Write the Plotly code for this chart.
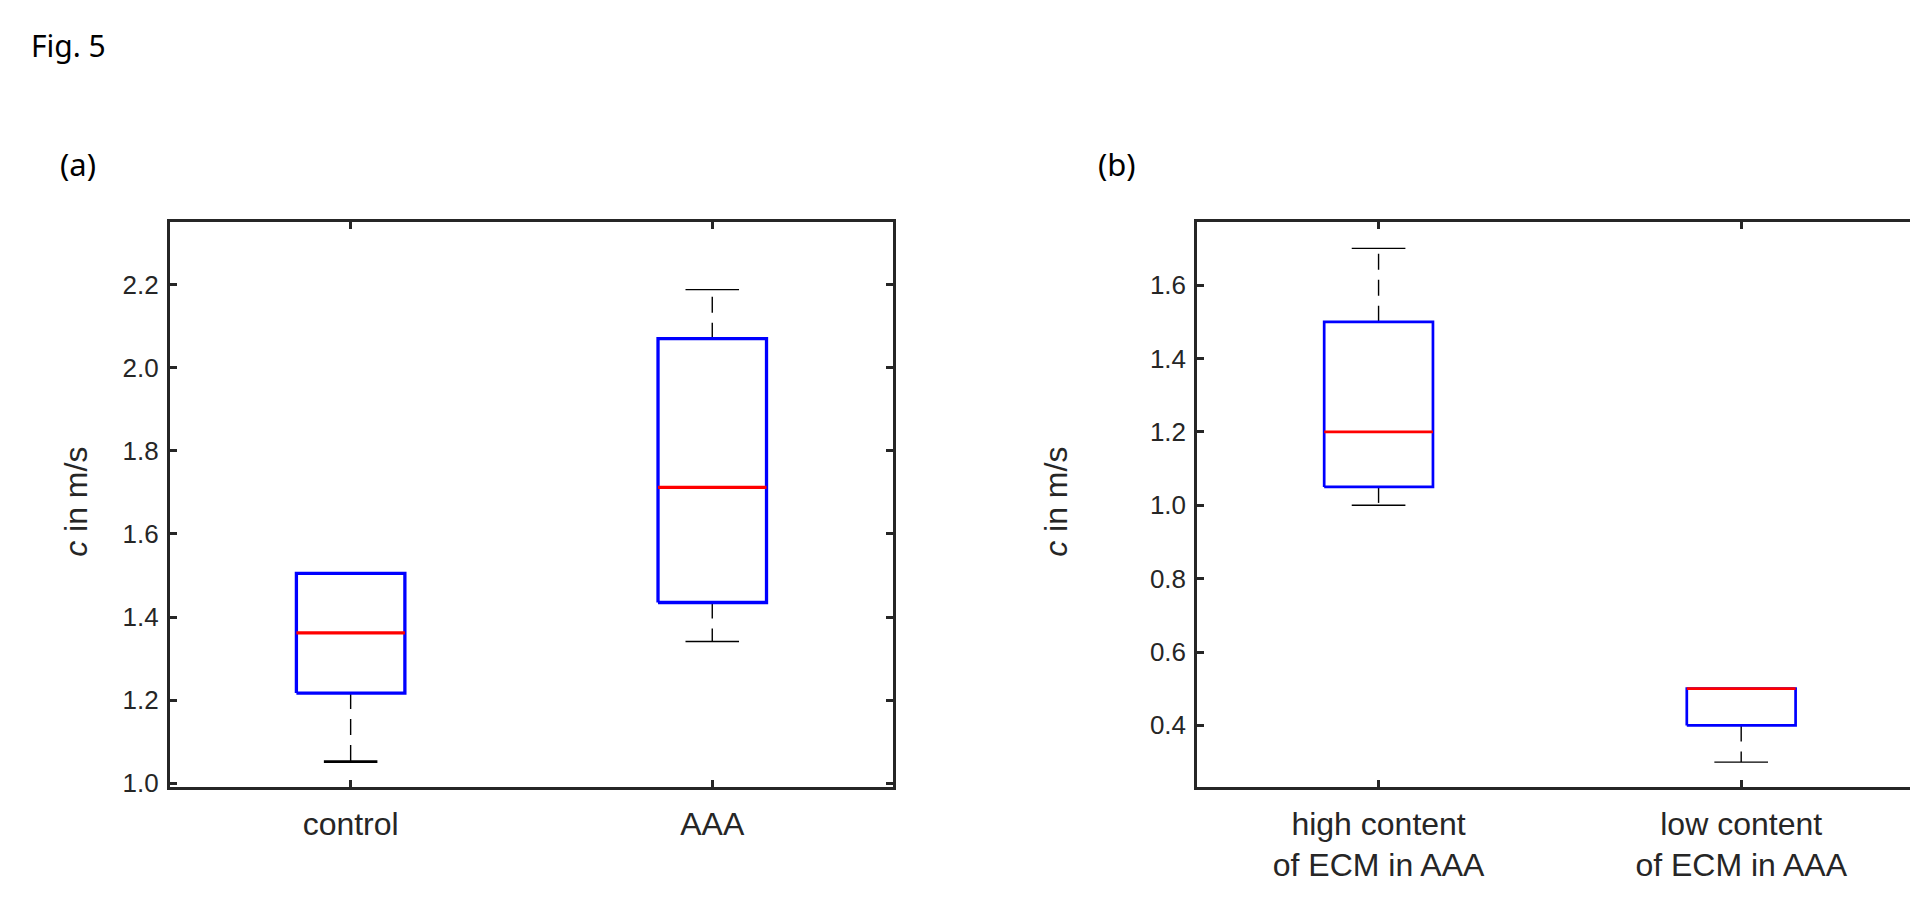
import plotly.graph_objects as go

# ---------------- data ----------------
fig_title = "Fig. 5"
panel_labels = ["(a)", "(b)"]
y_title = "<i>c</i> in m/s"

cats_a = ["control", "AAA"]
lower_a = [1.052, 1.341]
q1_a = [1.217, 1.435]
median_a = [1.362, 1.712]
q3_a = [1.505, 2.070]
upper_a = [1.505, 2.188]
ticks_a = [1.0, 1.2, 1.4, 1.6, 1.8, 2.0, 2.2]
yrange_a = [0.990, 2.350]

cats_b = ["high content<br>of ECM in AAA", "low content<br>of ECM in AAA"]
lower_b = [1.0, 0.3]
q1_b = [1.05, 0.4]
median_b = [1.2, 0.5]
q3_b = [1.5, 0.5]
upper_b = [1.7, 0.5]
ticks_b = [0.4, 0.6, 0.8, 1.0, 1.2, 1.4, 1.6]
yrange_b = [0.231, 1.771]

# ---------------- styles ----------------
W, H = 1918, 904
AX = "#262626"
BOX_HALF = 0.15
CAP_HALF = 0.074
FONT = "Liberation Sans, Arial, sans-serif"

fig = go.Figure()


def add_panel(xa, ya, cats, lo, q1, med, q3, up, box_w, cap_w):
    for i in range(len(cats)):
        p = i + 1
        # whiskers (dashed) + caps
        for a, b in ((q3[i], up[i]), (q1[i], lo[i])):
            if abs(b - a) > 1e-9:
                fig.add_trace(go.Scatter(
                    x=[p, p], y=[a, b], mode="lines", xaxis=xa, yaxis=ya,
                    line=dict(color="black", width=1.4, dash="16px,10px"),
                    hoverinfo="skip", showlegend=False))
                fig.add_trace(go.Scatter(
                    x=[p - CAP_HALF, p + CAP_HALF], y=[b, b], mode="lines",
                    xaxis=xa, yaxis=ya,
                    line=dict(color="black", width=cap_w[i]),
                    hoverinfo="skip", showlegend=False))
        # box
        fig.add_trace(go.Scatter(
            x=[p - BOX_HALF, p + BOX_HALF, p + BOX_HALF, p - BOX_HALF, p - BOX_HALF],
            y=[q1[i], q1[i], q3[i], q3[i], q1[i]], mode="lines",
            xaxis=xa, yaxis=ya,
            line=dict(color="#0000ff", width=box_w),
            hoverinfo="skip", showlegend=False))
        # median
        fig.add_trace(go.Scatter(
            x=[p - BOX_HALF, p + BOX_HALF], y=[med[i], med[i]], mode="lines",
            xaxis=xa, yaxis=ya,
            line=dict(color="#ff0000", width=box_w),
            hoverinfo="skip", showlegend=False))


add_panel("x", "y", cats_a, lower_a, q1_a, median_a, q3_a, upper_a, 3.3, [2.8, 1.4])
add_panel("x2", "y2", cats_b, lower_b, q1_b, median_b, q3_b, upper_b, 2.7, [1.4, 1.4])

ydom = [(904 - 789) / H, (904 - 217) / H]

xcommon = dict(range=[0.5, 2.5], showline=True, linewidth=3, linecolor=AX,
               mirror="ticks", ticks="inside", ticklen=7, tickwidth=2.5,
               tickcolor=AX, showgrid=False, zeroline=False,
               tickfont=dict(family=FONT, size=32, color=AX), fixedrange=True,
               ticklabelstandoff=6)
ycommon = dict(showline=True, linewidth=3, linecolor=AX, mirror="ticks",
               ticks="inside", ticklen=7, tickwidth=2.5, tickcolor=AX,
               showgrid=False, zeroline=False, tickformat=".1f",
               tickfont=dict(family=FONT, size=26, color=AX), fixedrange=True,
               ticklabelstandoff=3)

fig.update_layout(
    width=W, height=H, margin=dict(l=0, r=0, t=0, b=0),
    paper_bgcolor="white", plot_bgcolor="white", showlegend=False,
    hovermode=False,
    xaxis=dict(domain=[162 / W, 886 / W], anchor="y", tickvals=[1, 2],
               ticktext=cats_a, **xcommon),
    yaxis=dict(domain=ydom, anchor="x", range=yrange_a, tickvals=ticks_a,
               **ycommon),
    xaxis2=dict(domain=[1190.5 / W, 1916.5 / W], anchor="y2", tickvals=[1, 2],
                ticktext=cats_b, **xcommon),
    yaxis2=dict(domain=ydom, anchor="x2", range=yrange_b, tickvals=ticks_b,
                **ycommon),
)

ann = []
ann.append(dict(text=fig_title, x=21 / W, y=1 - 38 / H, xref="paper", yref="paper",
                xanchor="left", yanchor="middle", showarrow=False,
                font=dict(family="Noto Sans, Open Sans, sans-serif", size=30, color="black")))
for lbl, cx in zip(panel_labels, [70, 1110]):
    ann.append(dict(text=lbl, x=cx / W, y=1 - 158 / H, xref="paper", yref="paper",
                    xanchor="center", yanchor="middle", showarrow=False,
                    font=dict(family="Noto Sans, Open Sans, sans-serif", size=31, color="black")))
for cx in [68, 1049]:
    ann.append(dict(text=y_title, x=cx / W, y=1 - 500 / H, xref="paper", yref="paper",
                    xanchor="center", yanchor="middle", showarrow=False, textangle=-90,
                    font=dict(family=FONT, size=32, color=AX)))
fig.update_layout(annotations=ann)

fig.write_html("out.html")
